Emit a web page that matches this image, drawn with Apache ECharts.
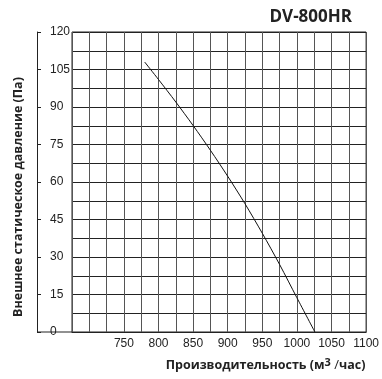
<!DOCTYPE html>
<html><head><meta charset="utf-8">
<script src="https://cdn.jsdelivr.net/npm/echarts@6/dist/echarts.min.js"></script>
<style>html,body{margin:0;padding:0;background:#fff}#c{width:382px;height:379px}</style>
</head><body><div id="c"></div>
<script>
// Data
const flowValues = [780, 800, 825, 850, 875, 900, 925, 950, 975, 1000, 1026];
const pressureValues = [108.0, 101.0, 92.0, 82.6, 72.7, 62.3, 51.3, 39.5, 27.0, 13.7, 0];
const xTickLabels = [750, 800, 850, 900, 950, 1000, 1050, 1100];
const yTickLabels = [0, 15, 30, 45, 60, 75, 90, 105, 120];
const titleText = 'DV-800HR';
const yTitle = 'Внешнее статическое давление (Па)';

const chart = echarts.init(document.getElementById('c'), null, {renderer: 'canvas'});
const dark = '#222';
const option = {
  animation: false,
  backgroundColor: '#fff',
  title: {
    text: titleText, right: 25, top: 4,
    textStyle: {fontFamily: 'Open Sans', fontWeight: 'bold', fontSize: 17, color: dark}
  },
  grid: {left: 72, right: 15, top: 32, bottom: 47, show: true, borderColor: dark, borderWidth: 1},
  xAxis: {
    type: 'value', min: 675, max: 1100, interval: 25,
    axisLine: {show: true, lineStyle: {color: dark}},
    axisTick: {show: false},
    splitLine: {show: true, lineStyle: {color: '#555', width: 1}},
    axisLabel: {
      margin: 6, fontFamily: 'Liberation Sans', fontSize: 12, color: dark,
      showMinLabel: true, showMaxLabel: true,
      formatter: v => xTickLabels.includes(Math.round(v)) ? String(Math.round(v)) : ''
    },
    name: '{a|Производительность (м}{s|3}{b| /}{a|час)}',
    nameLocation: 'middle', nameGap: 25,
    nameTextStyle: {
      padding: [0, 0, 0, 93],
      rich: {
        a: {fontFamily: 'Open Sans', fontWeight: 'bold', fontSize: 12.5, color: dark},
        b: {fontFamily: 'Open Sans', fontWeight: 'normal', fontSize: 13, color: dark},
        s: {fontFamily: 'Open Sans', fontWeight: 'bold', fontSize: 11, color: dark, verticalAlign: 'top', padding: [0, 0, 6, 0]}
      }
    }
  },
  yAxis: [
    {
      type: 'value', min: 0, max: 120, interval: 7.5, position: 'left',
      axisLine: {show: false}, axisTick: {show: false}, axisLabel: {show: false},
      splitLine: {show: true, lineStyle: {color: dark, width: 1}}
    },
    {
      type: 'value', min: 0, max: 120, interval: 15, position: 'left', offset: 35,
      axisLine: {show: true, lineStyle: {color: dark}},
      axisTick: {show: true, inside: true, length: 4, lineStyle: {color: dark}},
      splitLine: {show: false},
      axisLabel: {
        inside: true, margin: 13, fontFamily: 'Liberation Sans', fontSize: 12, color: dark,
        formatter: v => yTickLabels.includes(v) ? String(v) : ''
      },
      name: yTitle, nameLocation: 'middle', nameGap: 12, nameRotate: 90,
      nameTextStyle: {fontFamily: 'Open Sans', fontWeight: 'bold', fontSize: 12.5, color: dark, padding: [0, 30, 0, 0]}
    }
  ],
  series: [{
    type: 'line', xAxisIndex: 0, yAxisIndex: 0,
    data: flowValues.map((x, i) => [x, pressureValues[i]]),
    smooth: 0.3, showSymbol: false, symbol: 'none',
    lineStyle: {color: '#111', width: 1}
  }]
};
chart.setOption(option);
// short base line joining the offset pressure axis to the plot's bottom edge
const y0 = chart.convertToPixel({yAxisIndex: 0}, 0);
const xLeft = chart.convertToPixel({xAxisIndex: 0}, 675);
chart.setOption({graphic: [{type: 'line', shape: {x1: xLeft - 35, y1: y0, x2: xLeft, y2: y0}, style: {stroke: dark, lineWidth: 1}}]});
</script></body></html>
